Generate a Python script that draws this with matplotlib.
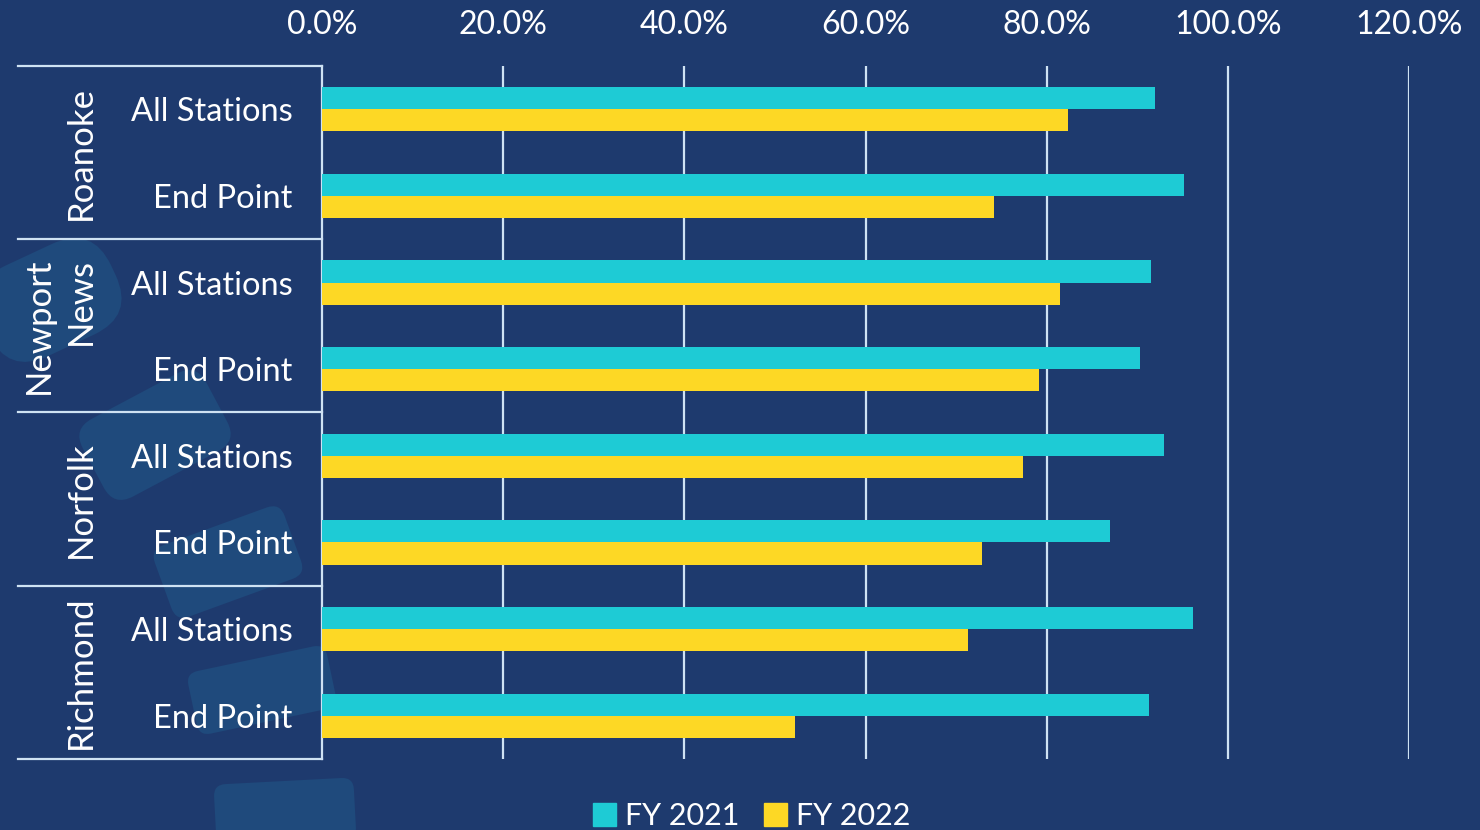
import numpy as np
import matplotlib
matplotlib.use("Agg")
import matplotlib.pyplot as plt
import matplotlib.transforms as mtransforms
from matplotlib.patches import FancyBboxPatch, Patch
from matplotlib.lines import Line2D

# data (percent)
groups = ["Roanoke", "Newport\nNews", "Norfolk", "Richmond"]
subcats = ["All Stations", "End Point"] * 4
fy2021 = [92.0, 95.2, 91.5, 90.3, 92.9, 87.0, 96.1, 91.3]
fy2022 = [82.3, 74.2, 81.5, 79.1, 77.4, 72.9, 71.3, 52.2]
xticks = [0, 20, 40, 60, 80, 100, 120]

BG = "#1e3a6e"
CYAN = "#1ecbd5"
YELLOW = "#fdd825"
GRID = "#cfe2f3"
BLOB = "#1f4a7c"

plt.rcParams["font.family"] = ["Lato", "DejaVu Sans"]

fig = plt.figure(figsize=(14.8, 8.3), dpi=100, facecolor=BG)
ax = fig.add_axes([322/1480, 1-759/830, (1409-322)/1480, (759-66)/830])
ax.set_facecolor("none")

# faint decorative shapes in the background (pixel coords, y from top)
blobs = [(50, 300, 140, 100, 25, 45), (155, 435, 140, 88, 28, 22),
         (228, 562, 138, 76, 20, 14), (262, 690, 142, 64, 12, 12),
         (285, 812, 140, 62, 3, 12)]
for cx, cy, w, h, ang, r in blobs:
    cyd = 830 - cy
    tr = mtransforms.Affine2D().rotate_deg_around(cx, cyd, ang)
    p = FancyBboxPatch((cx - w/2, cyd - h/2), w, h,
                       boxstyle=f"round,pad=0,rounding_size={r}",
                       transform=tr, facecolor=BLOB, edgecolor="none",
                       zorder=-5)
    fig.patches.append(p)

y = np.arange(len(subcats))
bh = 0.255
ax.barh(y - bh/2, fy2021, height=bh, color=CYAN, label="FY 2021", zorder=3)
ax.barh(y + bh/2, fy2022, height=bh, color=YELLOW, label="FY 2022", zorder=3)

ax.set_xlim(0, 120)
ax.set_ylim(len(subcats) - 0.5, -0.5)
ax.xaxis.tick_top()
ax.set_xticks(xticks)
ax.set_xticklabels([f"{v:.1f}%" for v in xticks])
ax.set_yticks(y)
ax.set_yticklabels(subcats)
ax.tick_params(axis="x", length=0, pad=19, labelsize=23, colors="white")
ax.tick_params(axis="y", length=0, pad=21, labelsize=23.5, colors="white")

for v in xticks[1:]:
    ax.axvline(v, color=GRID, lw=1.6, zorder=1)

for s in ["top", "right", "bottom"]:
    ax.spines[s].set_visible(False)
ax.spines["left"].set_color(GRID)
ax.spines["left"].set_linewidth(1.6)

# group separators and group labels
trans = mtransforms.blended_transform_factory(ax.transAxes, ax.transData)
x0 = (18 - 322) / (1409 - 322)
for b in [-0.5, 1.5, 3.5, 5.5, 7.5]:
    ax.add_line(Line2D([x0, 0], [b, b], transform=trans, color=GRID,
                       lw=1.6, clip_on=False))
xg = (97 - 322) / (1409 - 322)
for i, g in enumerate(groups):
    ax.text(xg, 2*i + 0.5, g, transform=trans, rotation=90, ha="right",
            va="center", color="white", fontsize=25, linespacing=1.4)

handles = [Patch(color=CYAN, label="FY 2021"), Patch(color=YELLOW, label="FY 2022")]
fig.legend(handles=handles, loc="center", bbox_to_anchor=(752/1480, 1-816/830),
           ncol=2, frameon=False, fontsize=22, labelcolor="white",
           handlelength=0.75, handleheight=0.75, handletextpad=0.3,
           columnspacing=0.8)

fig.savefig("out.png", dpi=100, facecolor=BG)
